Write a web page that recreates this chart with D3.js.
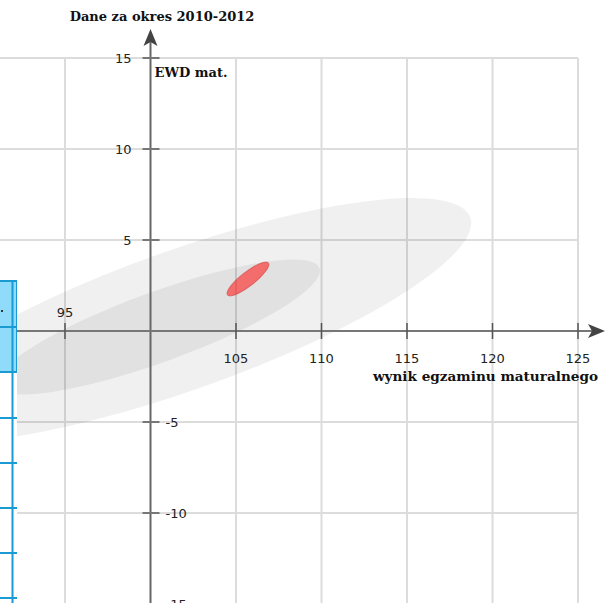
<!DOCTYPE html>
<html>
<head>
<meta charset="utf-8">
<script src="https://cdn.jsdelivr.net/npm/d3@7"></script>
<style>
  html, body { margin: 0; padding: 0; background: #fff; overflow: hidden; }
  .tick-label { font-family: "DejaVu Sans", sans-serif; font-size: 13px; fill: #222; }
  .title { font-family: "DejaVu Serif", serif; font-weight: bold; font-size: 13px; fill: #111; }
</style>
</head>
<body>
<div id="chart"></div>
<script>
// tick values on both axes
let xTicks = [95, 105, 110, 115, 120, 125];
let yTicks = [15, 10, 5, 0, -5, -10, -15];
let xGrid = [95, 105, 110, 115, 120, 125];
let yGrid = [15, 10, 5, -5, -10, -15];

// ellipses: centre (x, y), half axes in x units, angle in degrees
let ellipseNames = ['outer', 'inner', 'school'];
let ellipseCx = [101.84, 100.44, 105.7];
let ellipseCy = [0.6, 0.22, 2.86];
let ellipseA = [17.9, 10.06, 1.52];
let ellipseB = [4.09, 2.05, 0.41];
let ellipseAngle = [-19.6, -20, -38];

let titleText = 'Dane za okres 2010-2012';
let yLabel = 'EWD mat.';
let xLabel = 'wynik egzaminu maturalnego';

let width = 608, height = 603;

let svg = d3.select('#chart')
  .append('svg')
  .attr('width', width)
  .attr('height', height);

let xScale = d3.scaleLinear().domain([100, 125]).range([150.5, 578]);
let yScale = d3.scaleLinear().domain([0, 15]).range([331, 58]);

// grid
svg.selectAll('.vgrid')
  .data(xGrid)
  .enter()
  .append('line')
  .attr('x1', d => xScale(d)).attr('x2', d => xScale(d))
  .attr('y1', yScale(15)).attr('y2', yScale(-15))
  .style('stroke', '#dcdcdc').style('stroke-width', 2);

svg.selectAll('.hgrid')
  .data(yGrid)
  .enter()
  .append('line')
  .attr('x1', xScale(90)).attr('x2', xScale(125))
  .attr('y1', d => yScale(d)).attr('y2', d => yScale(d))
  .style('stroke', '#dcdcdc').style('stroke-width', 2);

// ellipses
let pxPerUnit = xScale(1) - xScale(0);
let fills = ['rgba(0,0,0,0.06)', 'rgba(0,0,0,0.06)', 'rgba(255,32,32,0.6)'];
svg.selectAll('.ell')
  .data(ellipseNames)
  .enter()
  .append('ellipse')
  .attr('cx', (d, i) => xScale(ellipseCx[i]))
  .attr('cy', (d, i) => yScale(ellipseCy[i]))
  .attr('rx', (d, i) => ellipseA[i] * pxPerUnit)
  .attr('ry', (d, i) => ellipseB[i] * pxPerUnit)
  .attr('transform', (d, i) => 'rotate(' + ellipseAngle[i] + ',' + xScale(ellipseCx[i]) + ',' + yScale(ellipseCy[i]) + ')')
  .style('fill', (d, i) => fills[i])
  .style('stroke', (d, i) => i == 2 ? 'rgba(200,60,60,0.5)' : 'none')
  .style('stroke-width', 1);

// axes
let x0 = xScale(100), y0 = yScale(0);
svg.append('line')
  .attr('x1', xScale(90)).attr('x2', 598)
  .attr('y1', y0).attr('y2', y0)
  .style('stroke', '#777').style('stroke-width', 2);
svg.append('line')
  .attr('x1', x0).attr('x2', x0)
  .attr('y1', 40).attr('y2', yScale(-15))
  .style('stroke', '#666').style('stroke-width', 2);

// arrow heads
svg.append('path')
  .attr('d', 'M' + 605 + ',' + y0 + 'L' + 588 + ',' + (y0 - 7) + 'L' + 592 + ',' + y0 + 'L' + 588 + ',' + (y0 + 7) + 'Z')
  .style('fill', '#444');
svg.append('path')
  .attr('d', 'M' + x0 + ',29L' + (x0 - 7) + ',46L' + x0 + ',42L' + (x0 + 7) + ',46Z')
  .style('fill', '#444');

// ticks
svg.selectAll('.xtick')
  .data(xTicks)
  .enter()
  .append('line')
  .attr('x1', d => xScale(d)).attr('x2', d => xScale(d))
  .attr('y1', y0 - 8).attr('y2', y0 + 8)
  .style('stroke', '#555').style('stroke-width', 1.5);

svg.selectAll('.ytick')
  .data(yTicks)
  .enter()
  .append('line')
  .attr('x1', x0 - 8).attr('x2', x0 + 9)
  .attr('y1', d => yScale(d)).attr('y2', d => yScale(d))
  .style('stroke', '#777').style('stroke-width', 2);

// tick labels
svg.selectAll('.xlab')
  .data(xTicks)
  .enter()
  .append('text')
  .attr('class', 'tick-label')
  .attr('x', d => xScale(d))
  .attr('y', d => d < 100 ? y0 - 14 : y0 + 32)
  .style('text-anchor', 'middle')
  .text(d => d);

svg.selectAll('.ylab')
  .data(yTicks.filter(d => d != 0))
  .enter()
  .append('text')
  .attr('class', 'tick-label')
  .attr('x', d => d > 0 ? x0 - 19 : x0 + 15)
  .attr('y', d => yScale(d) + 5)
  .style('text-anchor', d => d > 0 ? 'end' : 'start')
  .text(d => d);

// titles
svg.append('text').attr('class', 'title')
  .attr('x', 162).attr('y', 21)
  .style('text-anchor', 'middle')
  .text(titleText);
svg.append('text').attr('class', 'title')
  .attr('x', x0 + 4).attr('y', 77)
  .text(yLabel);
svg.append('text').attr('class', 'title')
  .attr('x', 598).attr('y', 381)
  .style('text-anchor', 'end')
  .style('font-size', '13.6px')
  .text(xLabel);

// table edge showing at the left side of the page
let tableRows = [281, 327, 372, 418, 463, 508, 553, 598];
let table = svg.append('g');
table.append('rect')
  .attr('x', 0).attr('y', 281).attr('width', 17).attr('height', height - 281)
  .style('fill', '#fff');
table.append('rect')
  .attr('x', 0).attr('y', 281).attr('width', 16).attr('height', 91)
  .style('fill', '#8fdcfa');
table.selectAll('.row')
  .data(tableRows)
  .enter()
  .append('line')
  .attr('x1', 0).attr('x2', 17)
  .attr('y1', d => d).attr('y2', d => d)
  .style('stroke', '#1a9ad3').style('stroke-width', 2);
table.append('line')
  .attr('x1', 12.5).attr('x2', 12.5)
  .attr('y1', 281).attr('y2', height)
  .style('stroke', '#1a9ad3').style('stroke-width', 2);
table.append('line')
  .attr('x1', 16.5).attr('x2', 16.5)
  .attr('y1', 281).attr('y2', 372)
  .style('stroke', '#1a9ad3').style('stroke-width', 1);
table.append('rect')
  .attr('x', 1).attr('y', 310).attr('width', 2).attr('height', 2)
  .style('fill', '#333');
</script>
</body>
</html>
